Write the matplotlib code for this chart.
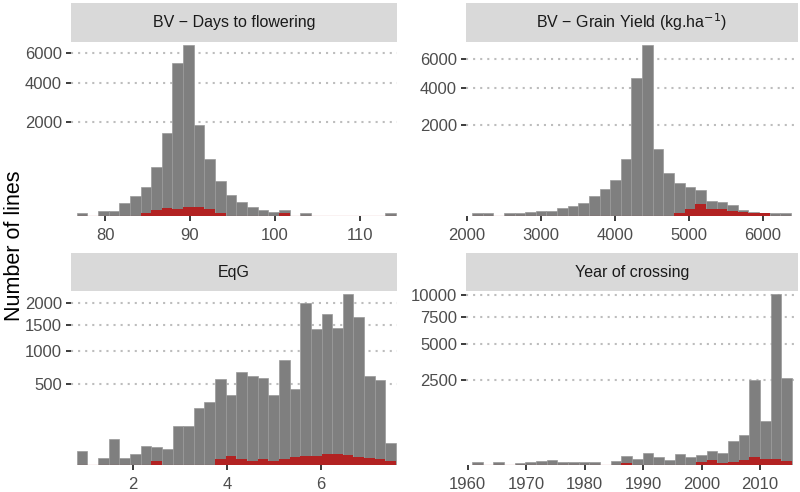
import numpy as np
import matplotlib
matplotlib.use("Agg")
import matplotlib.pyplot as plt

plt.rcParams['font.family'] = ['Liberation Sans', 'DejaVu Sans']

# --- data: counts per bin (all lines / selected lines) ---
# panel 1: BV - Days to flowering
dtf_start, dtf_width = 76.67, 1.252
dtf_all = [1, 0, 4, 5, 35, 88, 188, 533, 1535, 5295, 6569, 1849, 733, 274, 97,
           39, 18, 7, 3, 7, 0, 1, 0, 0, 0, 0, 0, 0, 0, 1]
dtf_sel = [0, 0, 0, 0, 0, 0, 1, 6, 12, 10, 18, 16, 9, 2, 0,
           0, 0, 0, 0, 1, 0, 0, 0, 0, 0, 0, 0, 0, 0, 0]

# panel 2: BV - Grain yield
gy_start, gy_width = 2072, 143.5
gy_all = [1, 1, 0, 1, 2, 3, 6, 4, 13, 22, 40, 92, 171, 302, 792, 4608, 7100,
          1085, 449, 258, 198, 154, 51, 42, 26, 7, 3, 2, 1, 1]
gy_sel = [0, 0, 0, 0, 0, 0, 0, 0, 0, 0, 0, 0, 0, 0, 0, 0, 0,
          0, 0, 1, 11, 30, 12, 10, 5, 3, 2, 2, 0, 0]

# panel 3: EqG
eqg_start, eqg_width = 0.792, 0.2272
eqg_all = [14, 0, 3, 51, 3, 9, 26, 23, 18, 116, 116, 246, 304, 559, 376, 665,
           609, 582, 376, 838, 443, 2016, 1411, 1735, 1440, 2229, 1666, 600, 546, 37]
eqg_sel = [0, 0, 0, 0, 0, 0, 0, 1, 0, 0, 0, 0, 0, 2.5, 5, 2,
           1, 2.5, 1, 2, 4, 5, 6, 8, 8, 7, 4, 3, 2, 1]

# panel 4: Year of crossing
yr_start, yr_width = 1960.74, 1.824
yr_all = [1.4, 0, 2.5, 0, 1, 3, 5, 6, 3, 2, 3, 2.5, 0, 4, 28, 11, 42, 22, 6,
          40, 20, 30, 59, 45, 184, 307, 2500, 665, 10040, 2580]
yr_sel = [0, 0, 0, 0, 0, 0, 0, 0, 0, 0, 0, 0, 0, 0, 1, 0, 0, 0, 0,
          0, 0, 2.5, 5.6, 1, 2.5, 7.6, 17, 8.7, 11, 3.9]

titles = ["BV \u2212 Days to flowering", "BV \u2212 Grain Yield (kg.ha$^{-1}$)",
          "EqG", "Year of crossing"]
xticks = [[80, 90, 100, 110], [2000, 3000, 4000, 5000, 6000], [2, 4, 6],
          [1960, 1970, 1980, 1990, 2000, 2010]]
yticks = [[2000, 4000, 6000], [2000, 4000, 6000], [500, 1000, 1500, 2000],
          [2500, 5000, 7500, 10000]]
xlims = [(76.0, 114.35), (1990.5, 6472), (0.670, 7.629), (1959.7, 2016.5)]
ylims = [6757, 7300, 2291, 10320]

panels = [(dtf_start, dtf_width, dtf_all, dtf_sel),
          (gy_start, gy_width, gy_all, gy_sel),
          (eqg_start, eqg_width, eqg_all, eqg_sel),
          (yr_start, yr_width, yr_all, yr_sel)]

W, H = 800, 492
fig = plt.figure(figsize=(W / 100, H / 100), dpi=100)

# pixel boxes: (left, right, strip_top, plot_top, plot_bottom)
boxes = [(71, 397, 3, 43, 215.5), (466, 798, 3, 43, 215.5),
         (71, 397, 253, 292, 464.5), (466, 798, 253, 292, 464.5)]

fwd = lambda v: np.sqrt(np.clip(v, 0, None))
inv = lambda v: np.asarray(v) ** 2

for i, (start, width, cnt_all, cnt_sel) in enumerate(panels):
    l, r, st, pt, pb = boxes[i]
    ax = fig.add_axes([l / W, 1 - pb / H, (r - l) / W, (pb - pt) / H])
    n = len(cnt_all)
    lefts = start + width * np.arange(n)
    ax.set_yscale('function', functions=(fwd, inv))
    ax.bar(lefts, cnt_all, width=width, align='edge', color='#7F7F7F',
           edgecolor='#9A9A9A', linewidth=0.5, zorder=2)
    ax.bar(lefts, cnt_sel, width=width, align='edge', color='#B22222',
           linewidth=0, zorder=3)
    ax.plot([lefts[0], lefts[-1] + width], [0, 0], color='#B22222',
            linewidth=0.8, zorder=4, solid_capstyle='butt')
    ax.set_xlim(*xlims[i])
    ax.set_ylim(0, ylims[i])
    ax.set_xticks(xticks[i])
    ax.set_yticks(yticks[i])
    ax.set_yticklabels([str(v) for v in yticks[i]])
    ax.grid(axis='y', color='#BDBDBD', linestyle=(0, (1, 2.4)), linewidth=1.5,
            zorder=1)
    ax.set_axisbelow(True)
    for s in ax.spines.values():
        s.set_visible(False)
    ax.tick_params(axis='both', length=3.5, width=1.2, color='#1A1A1A',
                   labelcolor='#4D4D4D', labelsize=12, pad=3)
    ax.tick_params(axis='x', pad=5.5)
    ax.minorticks_off()

    # strip
    sax = fig.add_axes([l / W, 1 - (pt - 1) / H, (r - l) / W, (pt - 1 - st) / H])
    sax.set_facecolor('#D9D9D9')
    sax.set_xticks([])
    sax.set_yticks([])
    for s in sax.spines.values():
        s.set_visible(False)
    sax.text(0.5, 0.5, titles[i], ha='center', va='center', fontsize=11.5,
             color='#1A1A1A', transform=sax.transAxes)

fig.text(0.018, 0.5, "Number of lines", rotation=90, ha='center', va='center',
         fontsize=15.5, color='black')

fig.savefig("out.png", dpi=100, facecolor='white')
